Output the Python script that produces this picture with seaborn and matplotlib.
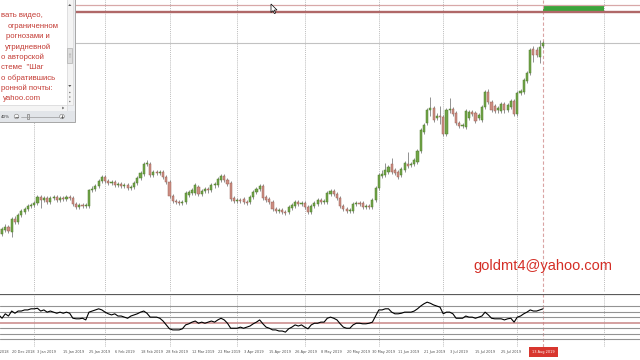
import numpy as np
import pandas as pd
import matplotlib
matplotlib.use("Agg")
import matplotlib.pyplot as plt
import matplotlib.transforms as mtrans
from matplotlib.patches import Rectangle, Polygon, Circle
import seaborn as sns

# ---------------- data ----------------
first_day = "2018-12-13"
last_day = "2019-08-13"
holidays = ["2018-12-25", "2019-01-01", "2019-04-19"]
future_grid_day = "2019-09-01"

opens = [1271, 1271, 1266, 1270, 1273,
         1268, 1281, 1278, 1285, 1288, 1291, 1294, 1295, 1297, 1303,
         1300, 1302, 1298, 1302, 1303, 1300, 1302, 1301, 1303, 1302,
         1296, 1293, 1295, 1294, 1294, 1310, 1311, 1314, 1319, 1323,
         1319, 1317, 1318, 1315, 1316, 1314, 1315, 1312, 1313, 1317,
         1322, 1326, 1336, 1336, 1325, 1328, 1327, 1328, 1323, 1318,
         1304, 1299, 1298, 1297, 1298, 1305, 1307, 1307, 1313, 1306,
         1309, 1311, 1310, 1315, 1315, 1320, 1324, 1320, 1317, 1302,
         1299, 1300, 1301, 1298, 1298, 1303, 1308, 1311, 1314, 1303,
         1301, 1298, 1291, 1289, 1290, 1288, 1288, 1292, 1294, 1298,
         1296, 1297, 1293, 1288, 1294, 1296, 1300, 1298, 1298, 1306,
         1309, 1306, 1302, 1294, 1291, 1289, 1289, 1296, 1297, 1297,
         1293, 1294, 1293, 1300, 1312, 1324, 1325, 1328, 1336, 1330,
         1328, 1325, 1330, 1336, 1335, 1336, 1338, 1349, 1368, 1377,
         1390, 1392, 1382, 1384, 1383, 1366, 1390, 1391, 1387, 1377,
         1374, 1373, 1382, 1388, 1387, 1382, 1380, 1393, 1408, 1398,
         1394, 1390, 1389, 1396, 1390, 1393, 1399, 1386, 1407, 1408,
         1419, 1427, 1451, 1450, 1443, 1454]

closes = [1270, 1266, 1271, 1273, 1269,
          1281, 1278, 1285, 1289, 1291, 1294, 1295, 1297, 1303, 1300,
          1302, 1298, 1302, 1303, 1300, 1302, 1301, 1303, 1302, 1296,
          1293, 1295, 1294, 1295, 1310, 1311, 1314, 1319, 1323, 1319,
          1317, 1318, 1315, 1316, 1314, 1315, 1312, 1313, 1317, 1322,
          1327, 1336, 1337, 1325, 1328, 1327, 1328, 1323, 1318, 1304,
          1299, 1298, 1297, 1298, 1307, 1308, 1310, 1315, 1306, 1309,
          1311, 1310, 1315, 1316, 1321, 1324, 1320, 1316, 1301, 1299,
          1300, 1299, 1298, 1297, 1303, 1308, 1311, 1314, 1302, 1300,
          1298, 1291, 1289, 1290, 1288, 1287, 1293, 1295, 1298, 1296,
          1297, 1293, 1288, 1294, 1297, 1300, 1298, 1299, 1307, 1309,
          1306, 1302, 1294, 1291, 1289, 1290, 1296, 1297, 1296, 1293,
          1294, 1293, 1300, 1312, 1325, 1326, 1330, 1333, 1328, 1327,
          1323, 1331, 1337, 1334, 1336, 1340, 1349, 1370, 1375, 1390,
          1392, 1380, 1384, 1383, 1366, 1390, 1391, 1386, 1377, 1374,
          1375, 1389, 1388, 1386, 1379, 1385, 1393, 1408, 1398, 1390,
          1389, 1392, 1396, 1390, 1395, 1399, 1386, 1407, 1409, 1420,
          1427, 1450, 1445, 1445, 1453, 1457]

highs = [1273, 1273, 1273, 1276, 1275,
         1283, 1284, 1287, 1291, 1293, 1296, 1297, 1299, 1305, 1305,
         1304, 1304, 1304, 1305, 1305, 1304, 1304, 1305, 1305, 1304,
         1298, 1297, 1297, 1297, 1311, 1314, 1316, 1321, 1325, 1325,
         1321, 1320, 1320, 1318, 1318, 1317, 1317, 1315, 1319, 1324,
         1329, 1338, 1340, 1338, 1330, 1330, 1330, 1330, 1325, 1320,
         1306, 1301, 1300, 1300, 1309, 1310, 1312, 1317, 1315, 1311,
         1313, 1313, 1317, 1318, 1323, 1326, 1326, 1322, 1319, 1304,
         1302, 1302, 1303, 1300, 1305, 1310, 1313, 1316, 1316, 1305,
         1303, 1300, 1293, 1292, 1292, 1290, 1295, 1297, 1300, 1300,
         1299, 1299, 1295, 1296, 1299, 1302, 1302, 1301, 1309, 1311,
         1311, 1308, 1304, 1296, 1293, 1292, 1298, 1299, 1299, 1299,
         1296, 1296, 1302, 1314, 1327, 1330, 1337, 1335, 1342, 1332,
         1330, 1333, 1339, 1348, 1338, 1342, 1351, 1372, 1377, 1392,
         1403, 1394, 1387, 1394, 1385, 1392, 1402, 1393, 1389, 1379,
         1377, 1391, 1390, 1390, 1389, 1387, 1395, 1410, 1411, 1400,
         1396, 1394, 1398, 1398, 1397, 1401, 1401, 1409, 1411, 1422,
         1429, 1452, 1454, 1453, 1460, 1459]

lows = [1268, 1264, 1264, 1268, 1267,
        1263, 1276, 1276, 1283, 1286, 1289, 1292, 1293, 1295, 1292,
        1298, 1296, 1296, 1300, 1298, 1298, 1299, 1299, 1300, 1294,
        1291, 1291, 1292, 1292, 1292, 1308, 1309, 1312, 1317, 1317,
        1315, 1315, 1313, 1313, 1312, 1312, 1310, 1310, 1311, 1315,
        1320, 1324, 1334, 1323, 1323, 1325, 1325, 1321, 1316, 1302,
        1297, 1296, 1295, 1295, 1296, 1303, 1305, 1305, 1304, 1304,
        1307, 1307, 1308, 1312, 1313, 1318, 1318, 1314, 1299, 1297,
        1297, 1297, 1296, 1295, 1296, 1301, 1306, 1309, 1300, 1298,
        1296, 1289, 1287, 1287, 1286, 1285, 1286, 1290, 1292, 1294,
        1294, 1291, 1286, 1286, 1292, 1294, 1296, 1296, 1296, 1304,
        1304, 1300, 1292, 1289, 1287, 1287, 1287, 1294, 1294, 1291,
        1291, 1291, 1291, 1298, 1310, 1322, 1323, 1326, 1326, 1325,
        1321, 1323, 1328, 1332, 1333, 1334, 1336, 1347, 1366, 1375,
        1384, 1378, 1380, 1376, 1364, 1364, 1387, 1384, 1375, 1372,
        1372, 1371, 1380, 1384, 1377, 1380, 1378, 1391, 1396, 1388,
        1387, 1387, 1387, 1387, 1388, 1391, 1384, 1384, 1405, 1406,
        1417, 1425, 1438, 1443, 1437, 1452]

indicator = [62, 64, 58, 66, 62,
             71, 67, 71, 71, 73, 73, 75, 75, 76, 71,
             73, 69, 71, 69, 67, 69, 67, 69, 67, 58,
             57, 57, 58, 55, 69, 71, 73, 75, 73, 69,
             66, 64, 66, 62, 62, 60, 58, 62, 64, 66,
             69, 71, 67, 60, 60, 60, 58, 53, 46, 39,
             37, 37, 37, 39, 46, 48, 51, 53, 49, 51,
             49, 51, 53, 51, 55, 58, 55, 49, 40, 40,
             40, 42, 40, 42, 44, 48, 51, 55, 48, 42,
             40, 37, 37, 35, 35, 33, 39, 42, 46, 44,
             46, 42, 39, 46, 49, 49, 51, 51, 58, 60,
             58, 55, 48, 42, 40, 40, 46, 49, 49, 48,
             48, 49, 51, 62, 73, 73, 75, 75, 69, 66,
             66, 67, 69, 69, 69, 71, 75, 80, 84, 87,
             85, 82, 80, 78, 66, 69, 69, 66, 58, 58,
             58, 62, 60, 60, 58, 60, 62, 69, 64, 58,
             57, 57, 57, 55, 57, 58, 51, 60, 62, 66,
             69, 73, 71, 71, 73, 75]

indicator_levels = [80, 70, 60, 50, 40, 30, 20]
highlight_level = 50

level_lines = [1495, 1488]          # two red horizontal levels (price)

date_labels = ["10 Dec 2018", "20 Dec 2018", "3 Jan 2019", "15 Jan 2019",
               "25 Jan 2019", "6 Feb 2019", "18 Feb 2019", "28 Feb 2019",
               "12 Mar 2019", "22 Mar 2019", "3 Apr 2019", "15 Apr 2019",
               "26 Apr 2019", "8 May 2019", "20 May 2019", "30 May 2019",
               "11 Jun 2019", "21 Jun 2019", "3 Jul 2019", "15 Jul 2019",
               "25 Jul 2019"]
current_label = "13 Aug 2019"

# visible part of the document text in the overlapping window
note_lines = ["вать видео,",
              "ограниченном",
              "рогнозами и",
              "утридневной",
              "о авторской",
              "стеме  \"Шаг",
              "о обратившись",
              "ронной почты:",
              "yahoo.com"]
email = "goldmt4@yahoo.com"

# ---------------- setup ----------------
sns.set_theme(style="white")
plt.rcParams["font.family"] = ["DejaVu Sans"]

dates = pd.bdate_range(first_day, last_day)
dates = dates[~dates.isin(pd.to_datetime(holidays))]
n = len(closes)
idx = np.arange(n)
o = np.array(opens, float)
c = np.array(closes, float)
h = np.array(highs, float)
l = np.array(lows, float)

hol = np.array(holidays, dtype="datetime64[D]")
start = np.datetime64(first_day)


def pos_of(day):
    d = np.datetime64(pd.Timestamp(day).date())
    return float(np.busday_count(start, d, holidays=hol))


fig = plt.figure(figsize=(6.4, 3.6), dpi=100)
fig.patch.set_facecolor("white")
W, H = 640.0, 360.0
ax = fig.add_axes([0, 68 / H, 1, 292 / H])
axi = fig.add_axes([0, 17 / H, 1, 49 / H])

XL = (1.366, 200.1)
for a in (ax, axi):
    a.set_xlim(*XL)
    a.set_facecolor("white")
    for s in a.spines.values():
        s.set_visible(False)
    a.set_xticks([])
    a.set_yticks([])
    a.grid(False)
ax.set_ylim(1208, 1500)
axi.set_ylim(13.4, 101.7)

# month grid lines
month_first = pd.Series(idx, index=dates).groupby([dates.year, dates.month]).min().values
last_i = n - 1
future_pos = last_i + (pd.Timestamp(future_grid_day) - dates[-1]).days
grid_pos = list(month_first[1:]) + [future_pos]
for gp in grid_pos:
    ax.axvline(gp, color="#a8a8a8", lw=0.6, ls=(0, (1, 1.3)), zorder=1)
    axi.axvline(gp, ymin=-0.07, ymax=1, color="#a8a8a8", lw=0.6,
                ls=(0, (1, 1.3)), zorder=1, clip_on=False)

# level lines and box
ax.add_patch(Rectangle((last_i, min(level_lines)), future_pos - last_i,
                       abs(level_lines[0] - level_lines[1]),
                       facecolor="#3ba53b", edgecolor="none", zorder=2))
ax.axhline(level_lines[0], color="#d8a8a8", lw=0.9, zorder=3)
ax.axhline(level_lines[1], color="#b06868", lw=1.7, zorder=3)
ax.axhline(c[-1], color="#c2c2c2", lw=0.8, zorder=1)

# candles
up = c >= o
body_lo = np.minimum(o, c)
body_h = np.maximum(np.abs(c - o), 0.6)
ax.vlines(idx, l, h, color="#808080", lw=0.6, zorder=3)
ax.bar(idx[up], body_h[up], bottom=body_lo[up], width=0.66,
       color="#72a548", edgecolor="#4e7d2c", linewidth=0.35, zorder=4)
ax.bar(idx[~up], body_h[~up], bottom=body_lo[~up], width=0.66,
       color="#cd8d82", edgecolor="#9c645a", linewidth=0.35, zorder=4)

# current bar dashed line
ax.axvline(last_i, color="#d9a3a3", lw=0.8, ls=(0, (3, 2)), zorder=2)
axi.axvline(last_i, ymin=-0.08, ymax=1, color="#d9a3a3", lw=0.8,
            ls=(0, (3, 2)), zorder=2, clip_on=False)

# indicator panel
for lv in indicator_levels:
    if lv == highlight_level:
        axi.axhline(lv, color="#c98686", lw=1.1, zorder=2)
    else:
        axi.axhline(lv, color="#939393", lw=0.8, zorder=2)
axi.axhline(101.0, color="#5a5a5a", lw=1.6, zorder=2)
sns.lineplot(x=idx, y=np.array(indicator, float), ax=axi, color="black",
             lw=0.8, zorder=5)
axi.set_xlim(*XL)
axi.set_ylim(13.4, 101.7)
axi.set_xlabel("")
axi.set_ylabel("")

# date labels
tr = mtrans.blended_transform_factory(axi.transData, axi.transAxes)
for lab in date_labels:
    p = pos_of(pd.to_datetime(lab, format="%d %b %Y"))
    axi.text(p, -0.19, lab, transform=tr, fontsize=2.5, color="#505050",
             ha="left", va="center", clip_on=False)
axi.text(last_i, -0.19, current_label, transform=tr, fontsize=2.5,
         color="white", ha="center", va="center", clip_on=False, zorder=6,
         bbox=dict(boxstyle="square,pad=0.9", facecolor="#d8362e",
                   edgecolor="none"))

# email
fig.text(473 / W, 1 - 266 / H, email, fontsize=10.5, color="#d42e26",
         family=["Liberation Sans", "DejaVu Sans"], ha="left", va="center")

# ---------------- overlay window (top-left) ----------------
ov = fig.add_axes([0, 0, 1, 1], zorder=20)
ov.set_xlim(0, W)
ov.set_ylim(H, 0)
ov.axis("off")
ov.patch.set_alpha(0)

ov.add_patch(Rectangle((-3, -3), 78, 125, facecolor="#eceef1",
                       edgecolor="#a6a6a6", lw=0.7))
ov.add_patch(Rectangle((-3, -3), 69.5, 108, facecolor="white", edgecolor="none"))
ov.add_patch(Rectangle((66.5, -3), 6.5, 108, facecolor="#f4f4f4",
                       edgecolor="#d2d2d2", lw=0.4))
ov.add_patch(Rectangle((67.4, 48), 4.7, 14.5, facecolor="#dedede",
                       edgecolor="#a3a3a3", lw=0.4))
for gy in (54, 55.3, 56.6):
    ov.plot([68.6, 70.9], [gy, gy], color="#8a8a8a", lw=0.3)
ov.add_patch(Polygon([(68.2, 6.0), (71.4, 6.0), (69.8, 4.0)], closed=True,
                     facecolor="#555555", edgecolor="none"))
ov.add_patch(Polygon([(68.2, 85.0), (71.4, 85.0), (69.8, 87.0)], closed=True,
                     facecolor="#555555", edgecolor="none"))
for yy in (92.5, 97.0, 101.5):
    ov.add_patch(Circle((69.8, yy), 0.7, facecolor="#707070", edgecolor="none"))
ov.add_patch(Rectangle((-3, 105), 69.5, 6, facecolor="#f4f4f4",
                       edgecolor="#d2d2d2", lw=0.4))
ov.add_patch(Polygon([(62.3, 106.6), (62.3, 109.4), (64.2, 108.0)], closed=True,
                     facecolor="#555555", edgecolor="none"))
ov.add_patch(Rectangle((-3, 111), 78, 11, facecolor="#e2e5e9", edgecolor="none"))
ov.text(0.6, 116.5, "40%", fontsize=3.0, color="#333333", ha="left", va="center")
ov.add_patch(Circle((16.5, 116.5), 2.3, facecolor="#f7f7f7",
                    edgecolor="#7a7a7a", lw=0.4))
ov.plot([15.3, 17.7], [116.5, 116.5], color="#444444", lw=0.5)
ov.plot([20.5, 59.0], [116.5, 116.5], color="#9a9a9a", lw=0.5)
ov.add_patch(Rectangle((27.4, 114.3), 1.5, 4.4, facecolor="#dcdcdc",
                       edgecolor="#666666", lw=0.4))
ov.add_patch(Circle((62.0, 116.5), 2.3, facecolor="#f7f7f7",
                    edgecolor="#7a7a7a", lw=0.4))
ov.plot([60.8, 63.2], [116.5, 116.5], color="#444444", lw=0.5)
ov.plot([62.0, 62.0], [115.3, 117.7], color="#444444", lw=0.5)

note_left = [1.0, 7.5, 5.5, 4.5, 1.0, 1.0, 1.0, 1.0, 2.5]
for i, (txt, xl) in enumerate(zip(note_lines, note_left)):
    ov.text(xl, 15.8 + 10.4 * i, txt, fontsize=5.6, color="#c43c35",
            family=["Liberation Sans", "DejaVu Sans"], ha="left", va="center")

# mouse cursor
ov.add_patch(Polygon([(271, 4), (271, 12.5), (273, 10.6), (274.4, 13.6),
                      (275.6, 13.0), (274.3, 10.1), (277, 10.0)], closed=True,
                     facecolor="white", edgecolor="black", lw=0.5))

fig.savefig("out.png", dpi=100)
